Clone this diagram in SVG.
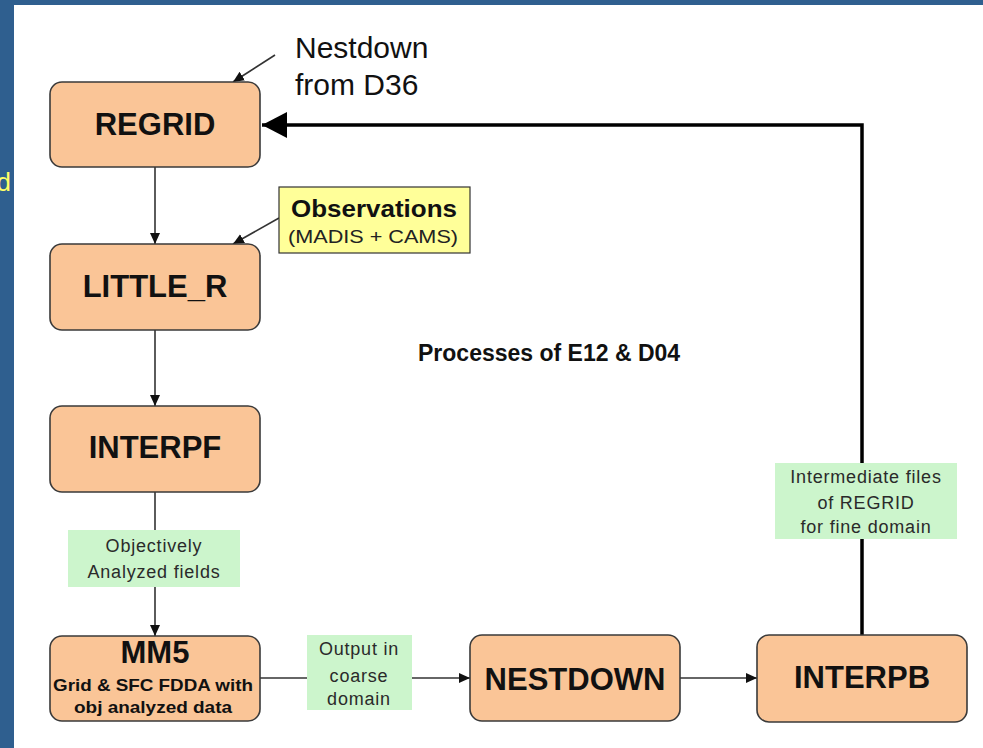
<svg xmlns="http://www.w3.org/2000/svg" width="983" height="748" viewBox="0 0 983 748">
<style>
.node rect{fill:#FAC597;stroke:#3a3a3a;stroke-width:1.6}
.title{font-family:"Liberation Sans",Arial,sans-serif;font-weight:bold;font-size:31px;fill:#111;text-anchor:middle}
.lbl rect{fill:#CCF5CC;stroke:none}
.lbl text{font-family:"Liberation Sans",Arial,sans-serif;font-size:18px;fill:#2a2a2a;text-anchor:middle;letter-spacing:0.8px}
.conn{stroke:#333;stroke-width:1.6;fill:none}
.thick{stroke:#000;stroke-width:3.5;fill:none}
.note{font-family:"Liberation Sans",Arial,sans-serif;font-size:30px;fill:#111}
</style>
<defs>
<marker id="ah" markerUnits="userSpaceOnUse" markerWidth="12" markerHeight="12" refX="11" refY="6" orient="auto">
<path d="M0,1 L11,6 L0,11 z" fill="#111"/>
</marker>
<marker id="ahBig" markerUnits="userSpaceOnUse" markerWidth="26" markerHeight="26" refX="25" refY="13" orient="auto">
<path d="M0,0 L25,13 L0,26 z" fill="#000"/>
</marker>
</defs>
<rect x="0" y="0" width="983" height="748" fill="#2F5F8F"/>
<rect x="14" y="5" width="969" height="743" fill="#FFFFFF"/>
<text x="11" y="191" text-anchor="end" font-family="Liberation Sans, Arial, sans-serif" font-size="26" fill="#FFFF66">d</text>

<g id="connectors">
<path class="conn" d="M155,167 V244" marker-end="url(#ah)"/>
<path class="conn" d="M155,330 V406" marker-end="url(#ah)"/>
<path class="conn" d="M155,492 V530"/>
<path class="conn" d="M155,586 V636" marker-end="url(#ah)"/>
<path class="conn" d="M260,678 H307"/>
<path class="conn" d="M412,678 H470" marker-end="url(#ah)"/>
<path class="conn" d="M680,678 H757" marker-end="url(#ah)"/>
<path class="thick" d="M862,635 V125 H262" marker-end="url(#ahBig)"/>
<path class="conn" d="M275,55 L233,82" stroke-width="1.2" marker-end="url(#ah)"/>
<path class="conn" d="M279,218 L233,244" stroke-width="1.2" marker-end="url(#ah)"/>
</g>

<g id="regrid" class="node"><rect x="50" y="82" width="210" height="85" rx="12"/><text class="title" x="155" y="135">REGRID</text></g>
<g id="little_r" class="node"><rect x="50" y="244" width="210" height="86" rx="12"/><text class="title" x="155" y="297">LITTLE_R</text></g>
<g id="interpf" class="node"><rect x="50" y="406" width="210" height="86" rx="12"/><text class="title" x="155" y="458">INTERPF</text></g>
<g id="mm5" class="node"><rect x="50" y="636" width="210" height="85" rx="12"/>
<text class="title" x="155" y="663" font-size="30">MM5</text>
<text x="153" y="691" text-anchor="middle" font-family="Liberation Sans, Arial, sans-serif" font-weight="bold" font-size="17" fill="#111" textLength="200" lengthAdjust="spacingAndGlyphs">Grid &amp; SFC FDDA with</text>
<text x="153" y="713" text-anchor="middle" font-family="Liberation Sans, Arial, sans-serif" font-weight="bold" font-size="17" fill="#111" textLength="158" lengthAdjust="spacingAndGlyphs">obj analyzed data</text>
</g>
<g id="nestdown" class="node"><rect x="470" y="635" width="210" height="86" rx="12"/><text class="title" x="575" y="690">NESTDOWN</text></g>
<g id="interpb" class="node"><rect x="757" y="635" width="210" height="87" rx="12"/><text class="title" x="862" y="688">INTERPB</text></g>

<g id="lbl-objective" class="lbl"><rect x="68" y="530" width="172" height="57"/>
<text x="154" y="552">Objectively</text><text x="154" y="578">Analyzed fields</text></g>
<g id="lbl-output" class="lbl"><rect x="307" y="635" width="105" height="75"/>
<text x="359" y="655">Output in</text><text x="359" y="682">coarse</text><text x="359" y="705">domain</text></g>
<g id="lbl-intermediate" class="lbl"><rect x="775" y="463" width="182" height="76"/>
<text x="866" y="483">Intermediate files</text><text x="866" y="509">of REGRID</text><text x="866" y="533">for fine domain</text></g>

<g id="observations"><rect x="279" y="187" width="191" height="66" fill="#FFFF99" stroke="#333" stroke-width="1.2"/>
<text x="374" y="217" text-anchor="middle" font-family="Liberation Sans, Arial, sans-serif" font-weight="bold" font-size="24" fill="#111" textLength="166" lengthAdjust="spacingAndGlyphs">Observations</text>
<text x="373" y="243" text-anchor="middle" font-family="Liberation Sans, Arial, sans-serif" font-size="19" fill="#222" textLength="170" lengthAdjust="spacingAndGlyphs">(MADIS + CAMS)</text></g>

<g id="nestdown-note"><text class="note" x="295" y="58">Nestdown</text><text class="note" x="295" y="95">from D36</text></g>
<text id="heading" x="418" y="361" font-family="Liberation Sans, Arial, sans-serif" font-weight="bold" font-size="23" fill="#111">Processes of E12 &amp; D04</text>
</svg>
